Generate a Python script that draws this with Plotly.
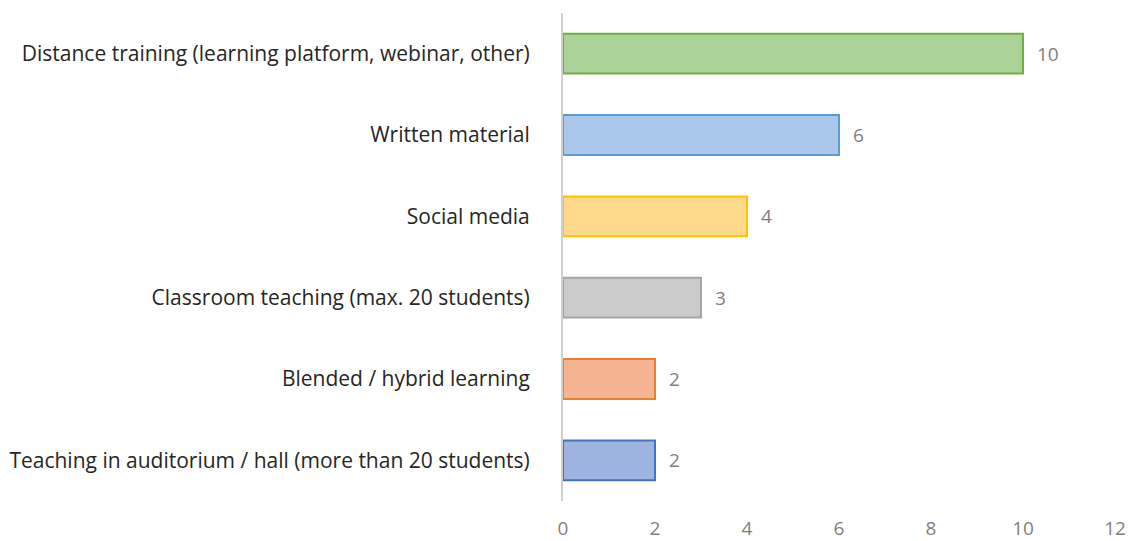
import plotly.graph_objects as go

categories = [
    "Teaching in auditorium / hall (more than 20 students)",
    "Blended / hybrid learning",
    "Classroom teaching (max. 20 students)",
    "Social media",
    "Written material",
    "Distance training (learning platform, webinar, other)",
]
values = [2, 2, 3, 4, 6, 10]
fill_colors = ["#9fb3e0", "#f5b592", "#cbcbcb", "#ffd98a", "#a9c8ec", "#abd297"]
line_colors = ["#4472c4", "#ed7d31", "#a5a5a5", "#ffc000", "#5b9bd5", "#70ad47"]
x_ticks = [0, 2, 4, 6, 8, 10, 12]

fig = go.Figure(
    go.Bar(
        x=values,
        y=categories,
        orientation="h",
        width=0.49,
        marker=dict(color=fill_colors, line=dict(color=line_colors, width=2)),
    )
)

for c, v in zip(categories, values):
    fig.add_annotation(
        x=v, y=c, text=str(v), showarrow=False, xanchor="left", xshift=12,
        font=dict(color="#7f7f7f", size=19),
    )

fig.update_layout(
    width=1126,
    height=533,
    margin=dict(l=555, r=19, t=5, b=40),
    paper_bgcolor="white",
    plot_bgcolor="white",
    font=dict(family="Open Sans, Liberation Sans, sans-serif"),
    showlegend=False,
)
fig.update_xaxes(
    range=[0, 12],
    tickvals=x_ticks,
    showgrid=False,
    zeroline=False,
    showline=False,
    automargin=False,
    tickfont=dict(color="#7f7f7f", size=19),
    ticklabelstandoff=14,
)
fig.update_yaxes(
    showgrid=False,
    showline=True,
    linecolor="#d0d0d0",
    linewidth=2,
    ticks="",
    automargin=False,
    tickfont=dict(color="#262626", size=21),
    ticklabelstandoff=27,
)

fig.write_html("out.html")
